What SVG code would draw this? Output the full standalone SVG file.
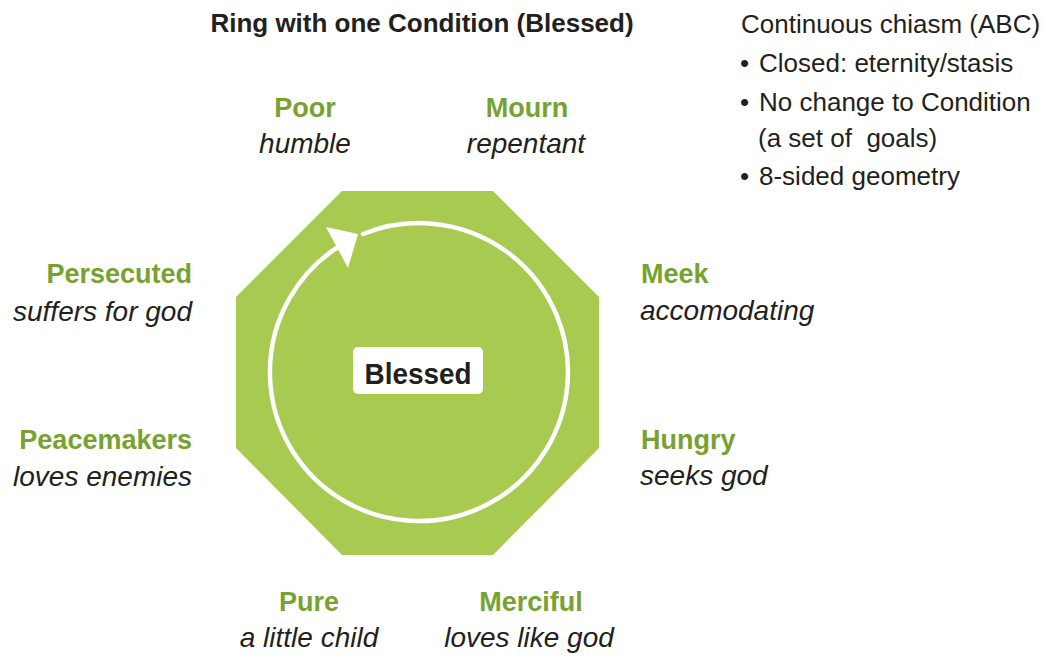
<svg xmlns="http://www.w3.org/2000/svg" width="1049" height="656" viewBox="0 0 1049 656">
  <style>
    .t { font-family: "Liberation Sans", Arial, sans-serif; fill: #231f20; }
    .title { font-size: 26px; font-weight: bold; }
    .note { font-size: 26px; }
    .lbl { font-family: "Liberation Sans", Arial, sans-serif; font-size: 27px; font-weight: bold; fill: #77a22f; }
    .sub { font-family: "Liberation Sans", Arial, sans-serif; font-size: 28px; font-style: italic; fill: #231f20; }
    .mid { text-anchor: middle; }
    .end { text-anchor: end; }
  </style>
  <rect width="1049" height="656" fill="#ffffff"/>

  <text class="t title mid" x="422" y="32">Ring with one Condition (Blessed)</text>

  <g id="notes" class="t note">
    <text x="741" y="33">Continuous chiasm (ABC)</text>
    <text x="740" y="72">•</text>
    <text x="759" y="72">Closed: eternity/stasis</text>
    <text x="740" y="111">•</text>
    <text x="759" y="111">No change to Condition</text>
    <text x="758" y="147" xml:space="preserve">(a set of  goals)</text>
    <text x="740" y="185">•</text>
    <text x="759" y="185">8-sided geometry</text>
  </g>

  <g id="ring">
    <polygon points="342,191 493,191 599,297 599,448 493,555 342,555 236,448 236,297" fill="#a9ca51"/>
  </g>

  <g id="connectors">
    <path d="M 363 234 A 149 149 0 1 1 338 247" fill="none" stroke="#ffffff" stroke-width="4.5" stroke-linecap="round"/>
    <polygon points="326,227 358,234 348,268" fill="#ffffff"/>
  </g>

  <g id="blessed">
    <rect x="353" y="347" width="130" height="47" rx="5" fill="#ffffff"/>
    <text class="t mid" x="418" y="384" font-size="30" font-weight="bold" textLength="107" lengthAdjust="spacingAndGlyphs">Blessed</text>
  </g>

  <g id="poor">
    <text class="lbl mid" x="305" y="117">Poor</text>
    <text class="sub mid" x="305" y="153">humble</text>
  </g>
  <g id="mourn">
    <text class="lbl mid" x="527" y="117" font-size="28">Mourn</text>
    <text class="sub mid" x="526" y="153">repentant</text>
  </g>
  <g id="meek">
    <text class="lbl" x="641" y="283">Meek</text>
    <text class="sub" x="640" y="320">accomodating</text>
  </g>
  <g id="hungry">
    <text class="lbl" x="641" y="449">Hungry</text>
    <text class="sub" x="640" y="485">seeks god</text>
  </g>
  <g id="merciful">
    <text class="lbl mid" x="531" y="611">Merciful</text>
    <text class="sub mid" x="529" y="647">loves like god</text>
  </g>
  <g id="pure">
    <text class="lbl mid" x="309" y="611">Pure</text>
    <text class="sub mid" x="309" y="647">a little child</text>
  </g>
  <g id="peacemakers">
    <text class="lbl end" x="192" y="449">Peacemakers</text>
    <text class="sub end" x="192" y="486">loves enemies</text>
  </g>
  <g id="persecuted">
    <text class="lbl end" x="192" y="283">Persecuted</text>
    <text class="sub end" x="192" y="321">suffers for god</text>
  </g>
</svg>
